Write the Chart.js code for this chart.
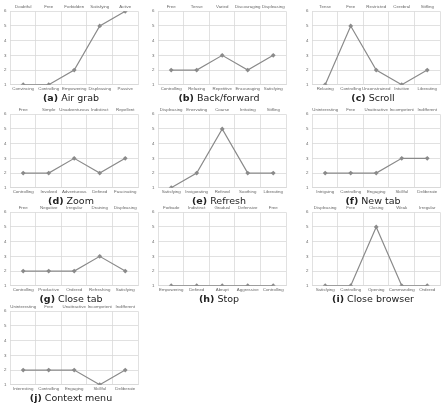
<!DOCTYPE html>
<html>
<head>
<meta charset="utf-8">
<script src="https://cdn.jsdelivr.net/npm/chart.js@4.4.0/dist/chart.umd.min.js"></script>
<style>
  html, body { margin: 0; padding: 0; background: #fff; }
  body { width: 445px; height: 404px; position: relative; overflow: hidden; }
  .cell { position: absolute; width: 142px; }
  .cell canvas { display: block; }
  .cap { text-align: center; font-family: "DejaVu Sans", sans-serif; font-size: 9.5px; color: #222; line-height: 10px; margin-top: 0px; }
  .cap b { font-weight: bold; }
</style>
</head>
<body>
<script>
// dados de cada painel (rótulos de cima, de baixo e valores)
const letras = ['a', 'b', 'c', 'd', 'e', 'f', 'g', 'h', 'i', 'j'];
const titulos = ['Air grab', 'Back/forward', 'Scroll', 'Zoom', 'Refresh', 'New tab', 'Close tab', 'Stop', 'Close browser', 'Context menu'];

const topoAirGrab = ['Doubtful', 'Free', 'Forbidden', 'Satisfying', 'Active'];
const baseAirGrab = ['Convincing', 'Controlling', 'Empowering', 'Displeasing', 'Passive'];
const valAirGrab = [1, 1, 2, 5, 6];

const topoBack = ['Free', 'Tense', 'Varied', 'Discouraging', 'Displeasing'];
const baseBack = ['Controlling', 'Relaxing', 'Repetitive', 'Encouraging', 'Satisfying'];
const valBack = [2, 2, 3, 2, 3];

const topoScroll = ['Tense', 'Free', 'Restricted', 'Cerebral', 'Stifling'];
const baseScroll = ['Relaxing', 'Controlling', 'Unconstrained', 'Intuitive', 'Liberating'];
const valScroll = [1, 5, 2, 1, 2];

const topoZoom = ['Free', 'Simple', 'Unadventurous', 'Indistinct', 'Repellent'];
const baseZoom = ['Controlling', 'Involved', 'Adventurous', 'Defined', 'Fascinating'];
const valZoom = [2, 2, 3, 2, 3];

const topoRefresh = ['Displeasing', 'Enervating', 'Coarse', 'Irritating', 'Stifling'];
const baseRefresh = ['Satisfying', 'Invigorating', 'Refined', 'Soothing', 'Liberating'];
const valRefresh = [1, 2, 5, 2, 2];

const topoNewTab = ['Uninteresting', 'Free', 'Unattractive', 'Incompetent', 'Indifferent'];
const baseNewTab = ['Intriguing', 'Controlling', 'Engaging', 'Skillful', 'Deliberate'];
const valNewTab = [2, 2, 2, 3, 3];

const topoCloseTab = ['Free', 'Negative', 'Irregular', 'Draining', 'Displeasing'];
const baseCloseTab = ['Controlling', 'Productive', 'Ordered', 'Refreshing', 'Satisfying'];
const valCloseTab = [2, 2, 2, 3, 2];

const topoStop = ['Forbade', 'Indistinct', 'Gradual', 'Defensive', 'Free'];
const baseStop = ['Empowering', 'Defined', 'Abrupt', 'Aggressive', 'Controlling'];
const valStop = [1, 1, 1, 1, 1];

const topoCloseBrowser = ['Displeasing', 'Free', 'Closing', 'Weak', 'Irregular'];
const baseCloseBrowser = ['Satisfying', 'Controlling', 'Opening', 'Commanding', 'Ordered'];
const valCloseBrowser = [1, 1, 5, 1, 1];

const topoContext = ['Uninteresting', 'Free', 'Unattractive', 'Incompetent', 'Indifferent'];
const baseContext = ['Interesting', 'Controlling', 'Engaging', 'Skillful', 'Deliberate'];
const valContext = [2, 2, 2, 1, 2];

const yTicks = [1, 2, 3, 4, 5, 6];

const paineis = [
  [topoAirGrab, baseAirGrab, valAirGrab],
  [topoBack, baseBack, valBack],
  [topoScroll, baseScroll, valScroll],
  [topoZoom, baseZoom, valZoom],
  [topoRefresh, baseRefresh, valRefresh],
  [topoNewTab, baseNewTab, valNewTab],
  [topoCloseTab, baseCloseTab, valCloseTab],
  [topoStop, baseStop, valStop],
  [topoCloseBrowser, baseCloseBrowser, valCloseBrowser],
  [topoContext, baseContext, valContext]
];

const colX = [0, 148, 302];
const linY = [3, 106, 204, 303];

const corGrade = '#d9d9d9';
const corLinha = '#8a8a8a';
const fonteTick = { family: "'Liberation Sans', sans-serif", size: 4.4 };

paineis.forEach((p, i) => {
  const [topo, base, valores] = p;
  const cell = document.createElement('div');
  cell.className = 'cell';
  cell.style.left = colX[i % 3] + 'px';
  cell.style.top = linY[Math.floor(i / 3)] + 'px';

  const canvas = document.createElement('canvas');
  canvas.width = 142;
  canvas.height = 90;
  cell.appendChild(canvas);

  const cap = document.createElement('div');
  cap.className = 'cap';
  cap.innerHTML = `<b>(${letras[i]})</b> ${titulos[i]}`;
  cell.appendChild(cap);
  document.body.appendChild(cell);

  new Chart(canvas, {
    type: 'line',
    data: {
      labels: base,
      datasets: [{
        data: valores,
        borderColor: corLinha,
        backgroundColor: corLinha,
        borderWidth: 1.2,
        pointStyle: 'rectRot',
        pointRadius: 2.4,
        pointBorderWidth: 0,
        tension: 0,
        xAxisID: 'x',
        yAxisID: 'y'
      }]
    },
    options: {
      responsive: false,
      animation: false,
      events: [],
      layout: { padding: { left: 0, right: 2, top: 0, bottom: 0 } },
      plugins: { legend: { display: false }, tooltip: { enabled: false } },
      scales: {
        x: {
          type: 'category',
          position: 'bottom',
          offset: true,
          grid: { offset: true, color: corGrade, drawTicks: false, lineWidth: 0.8 },
          border: { color: corGrade },
          ticks: { font: fonteTick, color: '#666', padding: 1.5, maxRotation: 0, autoSkip: false }
        },
        x2: {
          type: 'category',
          position: 'top',
          labels: topo,
          offset: true,
          grid: { display: false, drawTicks: false },
          border: { display: false },
          ticks: { font: fonteTick, color: '#666', padding: 1.5, maxRotation: 0, autoSkip: false }
        },
        y: {
          min: yTicks[0],
          max: yTicks[yTicks.length - 1],
          grid: { color: corGrade, drawTicks: false, lineWidth: 0.8 },
          border: { display: false },
          afterBuildTicks: ax => { ax.ticks = yTicks.map(v => ({ value: v })); },
          ticks: { font: fonteTick, color: '#666', padding: 4 }
        }
      }
    }
  });
});
</script>
</body>
</html>
